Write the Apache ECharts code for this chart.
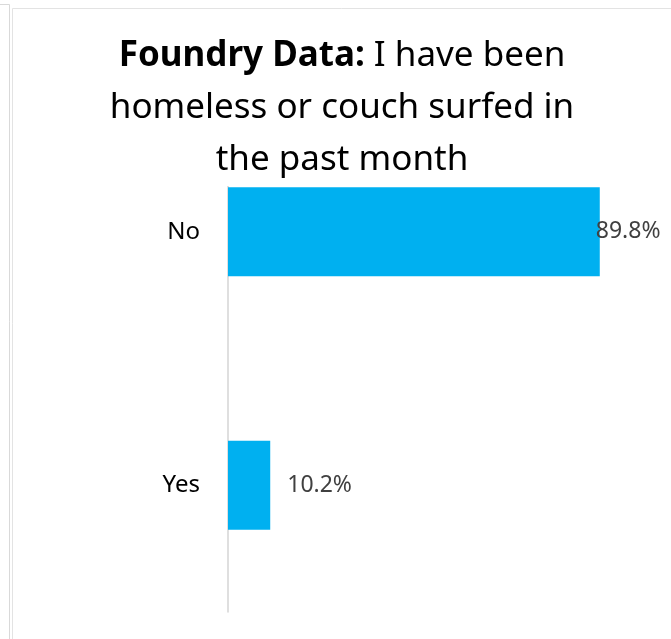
<!DOCTYPE html>
<html>
<head>
<meta charset="utf-8">
<script src="https://cdn.jsdelivr.net/npm/echarts@6/dist/echarts.min.js"></script>
<style>
    html, body { margin: 0; padding: 0; background: #fff; }
    #homeless_bar { width: 671px; height: 639px; }
</style>
</head>
<body>
<div id="homeless_bar"></div>
<script>
// Chart data
// ------------------------------

var categories = ['Yes', 'No'];
var percentValues = [10.2, 89.8];
var titleLines = ['{b|Foundry Data:} I have been', 'homeless or couch surfed in', 'the past month'];


// Setup chart
// ------------------------------

var chartElement = document.getElementById('homeless_bar');
var homelessBar = echarts.init(chartElement);

homelessBar.setOption({

    animation: false,

    textStyle: {
        fontFamily: '"Noto Sans", "Open Sans", sans-serif'
    },

    // Title (white box hides the axis line behind it)
    title: {
        text: titleLines.join('\n'),
        left: 342,
        top: 30,
        textAlign: 'center',
        padding: [0, 0, 0, 0],
        backgroundColor: '#fff',
        textStyle: {
            fontSize: 35,
            fontWeight: 'normal',
            color: '#000',
            lineHeight: 52,
            rich: {
                b: {
                    fontSize: 35,
                    fontWeight: 'bold',
                    color: '#000',
                    lineHeight: 52
                }
            }
        }
    },

    // Cell borders
    graphic: [
        {
            type: 'polyline',
            shape: { points: [[0, 4.5], [9.5, 4.5], [9.5, 639]] },
            style: { stroke: '#d9d9d9', lineWidth: 1, fill: null },
            silent: true
        },
        {
            type: 'polyline',
            shape: { points: [[671, 8.5], [12.5, 8.5], [12.5, 639]] },
            style: { stroke: '#e3e3e3', lineWidth: 1, fill: null },
            silent: true
        }
    ],

    grid: {
        left: 228,
        top: 105,
        width: 414,
        bottom: 27,
        containLabel: false
    },

    xAxis: {
        type: 'value',
        min: 0,
        max: 100,
        show: false
    },

    yAxis: {
        type: 'category',
        data: categories,
        axisLine: {
            lineStyle: { color: '#d4d4d4', width: 1.5 }
        },
        axisTick: { show: false },
        axisLabel: {
            margin: 28,
            fontSize: 24,
            color: '#000'
        }
    },

    series: [{
        type: 'bar',
        barWidth: 89,
        itemStyle: { color: '#00b0f0' },
        label: {
            show: true,
            position: 'right',
            distance: 17,
            fontSize: 23,
            color: '#404040',
            formatter: function(p) { return p.value.toFixed(1) + '%'; }
        },
        data: percentValues.map(function(v) {
            // the long bar's label is pulled back to sit inside the chart area
            return v > 50 ? { value: v, label: { distance: -4 } } : v;
        })
    }]
});
</script>
</body>
</html>
